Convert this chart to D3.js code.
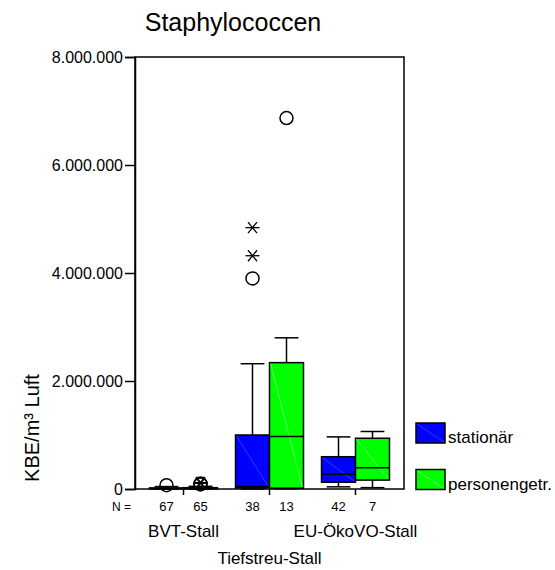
<!DOCTYPE html>
<html>
<head>
<meta charset="utf-8">
<script src="https://cdn.jsdelivr.net/npm/d3@7"></script>
<style>
  html, body { margin: 0; padding: 0; background: #fff; }
  svg { display: block; }
  text { font-family: Arial, "Liberation Sans", sans-serif; fill: #000; }
</style>
</head>
<body>
<script>
// ---- data ----
const groups = ["BVT-Stall", "Tiefstreu-Stall", "EU-ÖkoVO-Stall"];
const seriesNames = ["stationär", "personengetr."];
const seriesColors = ["#0000ff", "#00ff00"];
const nStationaer = [67, 38, 42];
const nPersonen = [65, 13, 7];
// box statistics: [lower whisker, Q1, median, Q3, upper whisker]
const statsStationaer = [
  [0, 5000, 10000, 20000, 45000],
  [0, 20000, 45000, 1000000, 2320000],
  [40000, 125000, 272000, 598000, 965000]
];
const statsPersonen = [
  [0, 5000, 12000, 25000, 50000],
  [5000, 15000, 970000, 2340000, 2800000],
  [25000, 165000, 395000, 940000, 1065000]
];
const outlierCirclesStationaer = [[70000], [3900000], []];
const outlierStarsStationaer = [[], [4320000, 4840000], []];
const outlierCirclesPersonen = [[85000, 100000], [6870000], []];
const outlierStarsPersonen = [[105000, 120000], [], []];
const yTicks = [0, 2000000, 4000000, 6000000, 8000000];
const title = "Staphylococcen";
const yTitle = "KBE/m³ Luft";

// ---- layout ----
const W = 555, H = 570;
const plot = { left: 135, right: 404, top: 57, bottom: 489 };

const svg = d3.select("body").append("svg").attr("width", W).attr("height", H);

const x = d3.scaleBand().domain(groups).range([plot.left, plot.right])
  .paddingInner(0).paddingOuter(0.064);
const xs = d3.scaleBand().domain(seriesNames).range([0, x.bandwidth()])
  .paddingInner(0).paddingOuter(0.265);
const y = d3.scaleLinear().domain([0, 8000000]).range([plot.bottom, plot.top]);

const loc = d3.formatLocale({ decimal: ",", thousands: ".", grouping: [3], currency: ["", ""] });
const fmt = loc.format(",d");

// frame
svg.append("rect").attr("x", plot.left).attr("y", plot.top)
  .attr("width", plot.right - plot.left).attr("height", plot.bottom - plot.top)
  .attr("fill", "none").attr("stroke", "#000").attr("stroke-width", 1.5);

// y axis
const yAxis = svg.append("g").attr("transform", `translate(${plot.left},0)`)
  .call(d3.axisLeft(y).tickValues(yTicks).tickFormat(fmt).tickSize(10).tickPadding(2));
yAxis.select(".domain").attr("stroke-width", 1.5);
yAxis.selectAll(".tick line").attr("stroke-width", 1.5);
yAxis.selectAll("text").style("font-size", "16px").attr("font-family", null);

// x axis (ticks only)
const xAxis = svg.append("g").attr("transform", `translate(0,${plot.bottom})`)
  .call(d3.axisBottom(x).tickSize(6).tickFormat(""));
xAxis.select(".domain").remove();
xAxis.selectAll(".tick line").attr("stroke-width", 1.5);

// boxes
const series = [
  { name: seriesNames[0], color: seriesColors[0], stats: statsStationaer, n: nStationaer,
    circles: outlierCirclesStationaer, stars: outlierStarsStationaer, diag: "#4a66ff" },
  { name: seriesNames[1], color: seriesColors[1], stats: statsPersonen, n: nPersonen,
    circles: outlierCirclesPersonen, stars: outlierStarsPersonen, diag: "#9dff9d" }
];

const g = svg.append("g");
series.forEach(s => {
  groups.forEach((grp, i) => {
    const [lo, q1, med, q3, hi] = s.stats[i];
    const x0 = x(grp) + xs(s.name);
    const bw = xs.bandwidth();
    const cx = x0 + bw / 2;
    const capW = bw * 0.7;
    // whiskers
    g.append("line").attr("x1", cx).attr("x2", cx).attr("y1", y(q3)).attr("y2", y(hi))
      .attr("stroke", "#000").attr("stroke-width", 1.5);
    g.append("line").attr("x1", cx).attr("x2", cx).attr("y1", y(q1)).attr("y2", y(lo))
      .attr("stroke", "#000").attr("stroke-width", 1.5);
    g.append("line").attr("x1", cx - capW / 2).attr("x2", cx + capW / 2).attr("y1", y(hi)).attr("y2", y(hi))
      .attr("stroke", "#000").attr("stroke-width", 1.5);
    g.append("line").attr("x1", cx - capW / 2).attr("x2", cx + capW / 2).attr("y1", y(lo)).attr("y2", y(lo))
      .attr("stroke", "#000").attr("stroke-width", 1.5);
    // box
    g.append("rect").attr("x", x0).attr("y", y(q3)).attr("width", bw)
      .attr("height", Math.max(0.5, y(q1) - y(q3)))
      .attr("fill", s.color).attr("stroke", "#000").attr("stroke-width", 1.5);
    if (y(q1) - y(q3) > 6) {
      g.append("line").attr("x1", x0 + 1).attr("y1", y(q3) + 1).attr("x2", x0 + bw - 1).attr("y2", y(q1) - 1)
        .attr("stroke", s.diag).attr("stroke-width", 0.6);
    }
    g.append("line").attr("x1", x0).attr("x2", x0 + bw).attr("y1", y(med)).attr("y2", y(med))
      .attr("stroke", "#000").attr("stroke-width", 1.5);
    // outliers
    s.circles[i].forEach(v => {
      g.append("circle").attr("cx", cx).attr("cy", y(v)).attr("r", 6.5)
        .attr("fill", "none").attr("stroke", "#000").attr("stroke-width", 1.5);
    });
    s.stars[i].forEach(v => {
      const cy = y(v);
      const star = g.append("g").attr("stroke", "#000").attr("stroke-width", 1.3);
      star.append("line").attr("x1", cx - 7).attr("x2", cx + 7).attr("y1", cy).attr("y2", cy);
      star.append("line").attr("x1", cx - 4.5).attr("x2", cx + 4.5).attr("y1", cy - 5.5).attr("y2", cy + 5.5);
      star.append("line").attr("x1", cx - 4.5).attr("x2", cx + 4.5).attr("y1", cy + 5.5).attr("y2", cy - 5.5);
    });
    // N labels
    svg.append("text").attr("x", cx).attr("y", 511).attr("text-anchor", "middle")
      .style("font-size", "13px").text(s.n[i]);
  });
});

svg.append("text").attr("x", plot.left - 4).attr("y", 511).attr("text-anchor", "end")
  .style("font-size", "12px").text("N =");

// category labels (staggered)
groups.forEach((grp, i) => {
  svg.append("text").attr("x", x(grp) + x.bandwidth() / 2)
    .attr("y", i % 2 === 0 ? 537 : 564).attr("text-anchor", "middle")
    .style("font-size", "17px").text(grp);
});

// title
svg.append("text").attr("x", 233).attr("y", 31).attr("text-anchor", "middle")
  .style("font-size", "25px").text(title);

// y title
svg.append("text").attr("transform", "translate(39,428) rotate(-90)")
  .attr("text-anchor", "middle").style("font-size", "20px").text(yTitle);

// legend
const leg = svg.append("g");
series.forEach((s, i) => {
  const ly = 423 + i * 46.5;
  leg.append("rect").attr("x", 416).attr("y", ly).attr("width", 29).attr("height", 20)
    .attr("fill", s.color).attr("stroke", "#000").attr("stroke-width", 1.5);
  leg.append("line").attr("x1", 417).attr("y1", ly + 1).attr("x2", 444).attr("y2", ly + 19)
    .attr("stroke", s.diag).attr("stroke-width", 0.6);
  leg.append("text").attr("x", 448).attr("y", ly + 20).style("font-size", "17px").text(s.name);
});
</script>
</body>
</html>
